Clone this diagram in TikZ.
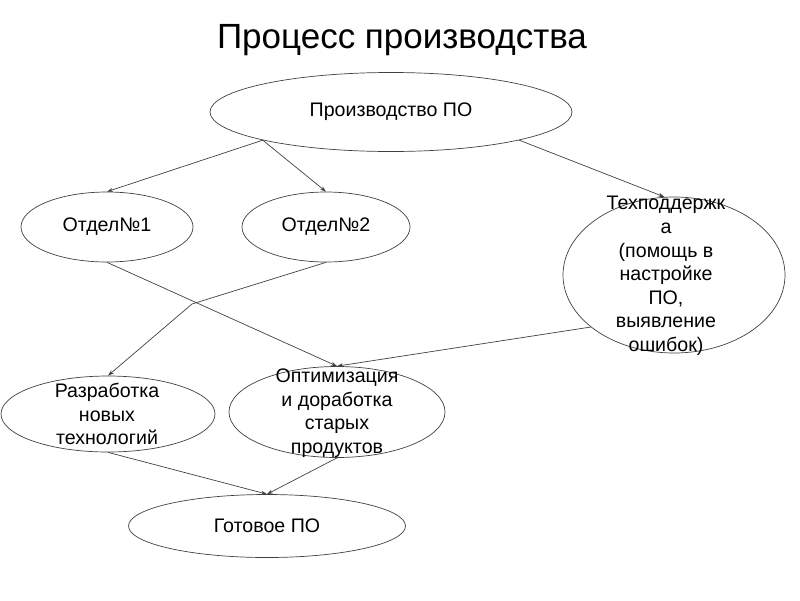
\documentclass[tikz,border=0pt]{standalone}
\usepackage{fontspec}
\setmainfont{Liberation Sans}
\usetikzlibrary{arrows.meta,shapes.geometric}

\begin{document}
\begin{tikzpicture}[x=1pt, y=-1pt,
  oval/.style={ellipse, draw=black!75, line width=0.7pt, inner sep=0pt},
  txt/.style={align=center, font=\fontsize{19.6}{23.6}\selectfont},
  arr/.style={-{Stealth[length=6pt, width=4pt]}, draw=black!75, line width=0.7pt}
]
\useasboundingbox (0,0) rectangle (800,600);

\node[font=\fontsize{35}{40}\selectfont, anchor=base] (title) at (402,48) {Процесс производства};

% ellipses
\node[oval, txt, minimum width=362pt, minimum height=79pt] (prod) at (391,112) {Производство ПО};
\node[oval, txt, minimum width=172pt, minimum height=70pt] (otd1) at (107,227) {Отдел№1};
\node[oval, txt, minimum width=168pt, minimum height=70pt] (otd2) at (326,227) {Отдел№2};
\node[oval, minimum width=222pt, minimum height=156pt] (tech) at (674,275) {};
\node[oval, minimum width=214pt, minimum height=76pt] (razr) at (108,414) {};
\node[oval, minimum width=216pt, minimum height=91pt] (opt) at (337,412) {};
\node[oval, txt, minimum width=277pt, minimum height=63pt] (gotovoe) at (267,526) {Готовое ПО};

% texts of the long ones
\node[txt] (techtxt) at (666,276) {Техподдержк\\а\\(помощь в\\ настройке\\ПО,\\выявление\\ошибок)};
\node[txt] (razrtxt) at (107,414) {Разработка\\новых\\технологий};
\node[txt] (opttxt) at (337,413) {Оптимизация\\и доработка\\старых\\продуктов};

% connectors
\coordinate (bend) at (192,304);
\draw[arr] (prod.south west) -- (otd1.north);
\draw[arr] (prod.south west) -- (otd2.north);
\draw[arr] (prod.south east) -- (tech.97);
\draw[arr] (otd1.south) -- (opt.north);
\draw[arr] (otd2.south) -- (bend) -- (razr.north);
\draw[arr] (tech.212) -- (opt.north);
\draw[arr] (razr.south) -- (gotovoe.north);
\draw[arr] (opt.south) -- (gotovoe.north);
\end{tikzpicture}
\end{document}
